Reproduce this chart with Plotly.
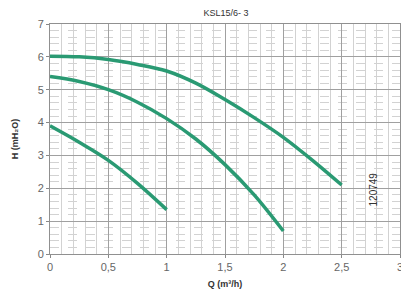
import plotly.graph_objects as go

q1 = [0, 0.25, 0.5, 0.75, 1.0, 1.25, 1.5, 1.75, 2.0, 2.25, 2.5]
h1 = [6.02, 6.0, 5.92, 5.77, 5.57, 5.2, 4.7, 4.15, 3.55, 2.85, 2.1]
q2 = [0, 0.25, 0.5, 0.75, 1.0, 1.25, 1.5, 1.75, 2.0]
h2 = [5.4, 5.25, 5.0, 4.62, 4.12, 3.5, 2.72, 1.8, 0.7]
q3 = [0, 0.25, 0.5, 0.75, 1.0]
h3 = [3.9, 3.4, 2.85, 2.15, 1.35]

x_ticks = [0, 0.5, 1, 1.5, 2, 2.5, 3]
x_labels = ["0", "0,5", "1", "1,5", "2", "2,5", "3"]
y_ticks = [0, 1, 2, 3, 4, 5, 6, 7]

title = "KSL15/6- 3"
code = "120749"
color = "#2a9a73"

fig = go.Figure()
for q, h in [(q1, h1), (q2, h2), (q3, h3)]:
    fig.add_trace(go.Scatter(x=q, y=h, mode="lines", line=dict(color=color, width=3.5, shape="spline"),
                             showlegend=False, hoverinfo="skip"))

fig.add_annotation(x=2.77, y=1.97, text=code, showarrow=False, textangle=-90,
                   font=dict(family="Liberation Sans, Arial", size=10, color="#333"))

# the page body has an 8px margin, so the figure is 8px smaller than the window
W, H = 401, 296
fig.update_layout(
    width=W, height=H,
    margin=dict(l=41, r=6, t=16, b=50),
    paper_bgcolor="white", plot_bgcolor="white",
    title=dict(text=title, x=(41 + 395) / 2 / W, xanchor="center", y=1 - 5 / H, yanchor="middle",
               font=dict(family="Liberation Sans, Arial", size=9, color="#333")),
    font=dict(family="Liberation Sans, Arial", color="#555"),
)
fig.update_xaxes(range=[0, 3], tickvals=x_ticks, ticktext=x_labels, showgrid=True,
                 gridcolor="#a0a0a0", gridwidth=1, zeroline=False,
                 showline=True, linecolor="#909090", linewidth=1, mirror=True,
                 ticks="outside", ticklen=3, tickcolor="#888",
                 tickfont=dict(size=11, color="#666"),
                 minor=dict(dtick=0.1, tick0=0, showgrid=True, gridcolor="#d2d2d2", gridwidth=1),
                 title=dict(text="<b>Q (m³/h)</b>", font=dict(size=9, color="#333"), standoff=8))
fig.update_yaxes(range=[0, 7], tickvals=y_ticks, showgrid=True,
                 gridcolor="#a0a0a0", gridwidth=1, zeroline=False,
                 showline=True, linecolor="#909090", linewidth=1, mirror=True,
                 ticks="outside", ticklen=3, tickcolor="#888",
                 tickfont=dict(size=11, color="#666"),
                 minor=dict(dtick=0.2, tick0=0, showgrid=True, gridcolor="#d2d2d2", gridwidth=1, griddash="dash"),
                 title=dict(text="<b>H (mH₂O)</b>", font=dict(size=9, color="#333"), standoff=17))

fig.write_html("out.html")
